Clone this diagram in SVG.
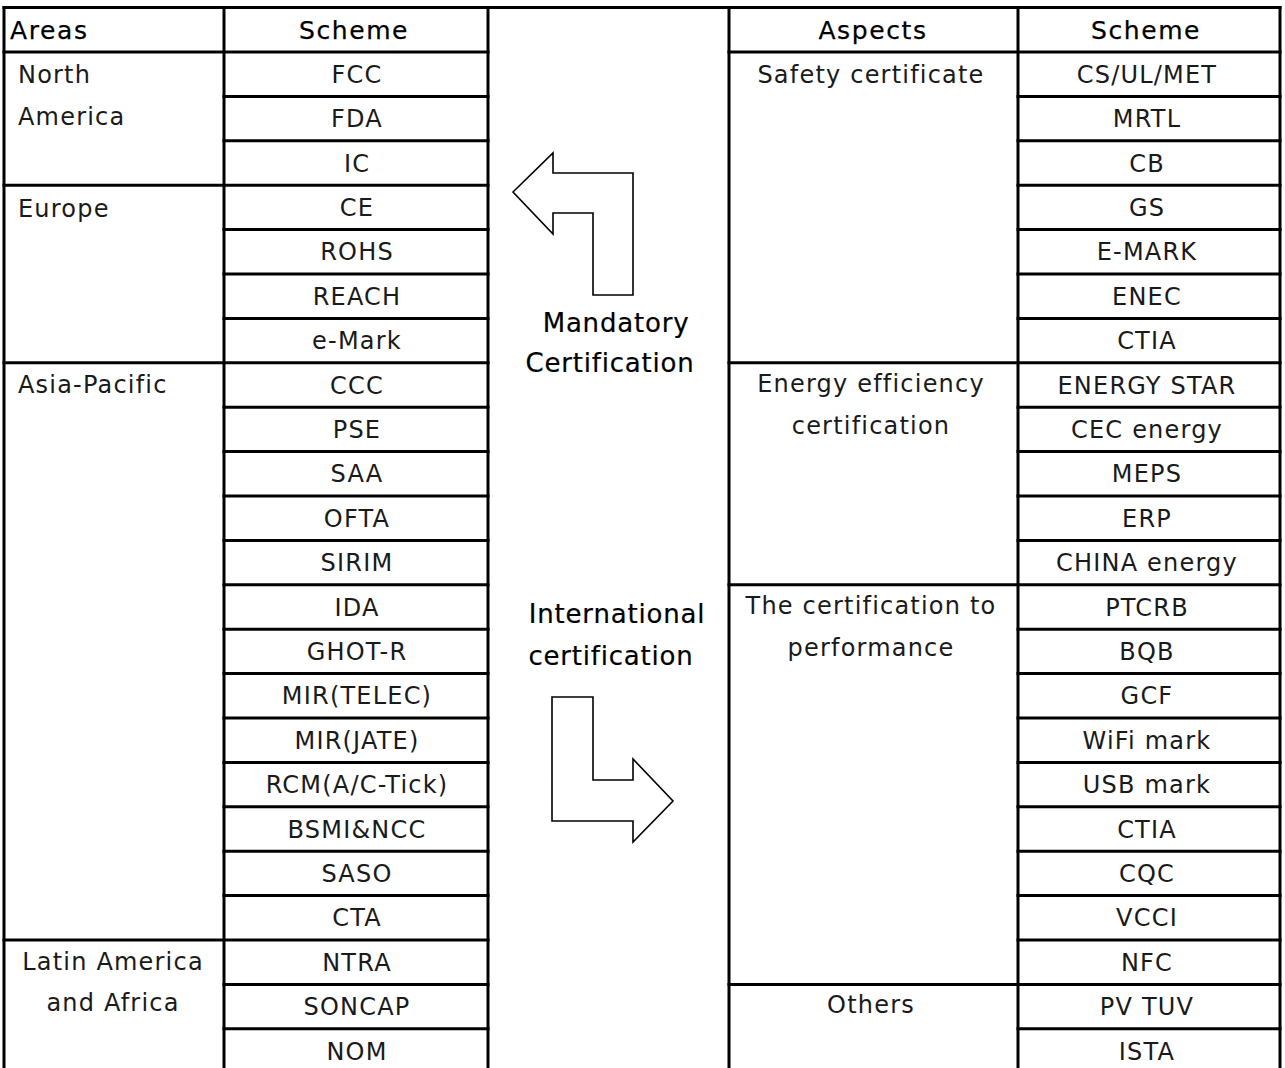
<svg xmlns="http://www.w3.org/2000/svg" width="1285" height="1068" viewBox="0 0 1285 1068">
<style>
.ln{stroke:#000;stroke-width:3;fill:none;stroke-linecap:square}
.t{font-family:"DejaVu Sans","Liberation Sans",sans-serif;font-size:24px;letter-spacing:1.2px;fill:#1a1a1a}
.c{text-anchor:middle}
.h{font-family:"DejaVu Sans","Liberation Sans",sans-serif;font-size:25px;letter-spacing:1.6px;fill:#000;stroke:#000;stroke-width:0.25;text-anchor:middle}
.m{font-family:"DejaVu Sans","Liberation Sans",sans-serif;font-size:26px;letter-spacing:0.8px;fill:#000;stroke:#000;stroke-width:0.2;text-anchor:middle}
.arr{fill:#fff;stroke:#000;stroke-width:1.6;stroke-linejoin:miter}
</style>
<rect width="1285" height="1068" fill="#fff"/>
<g id="grid" class="ln">
<line x1="4" y1="7.5" x2="1280" y2="7.5"/>
<line x1="4" y1="7.5" x2="4" y2="1075"/>
<line x1="224" y1="7.5" x2="224" y2="1075"/>
<line x1="488" y1="7.5" x2="488" y2="1075"/>
<line x1="729" y1="7.5" x2="729" y2="1075"/>
<line x1="1018" y1="7.5" x2="1018" y2="1075"/>
<line x1="1280" y1="7.5" x2="1280" y2="1075"/>
<line x1="4" y1="52" x2="488" y2="52"/>
<line x1="729" y1="52" x2="1280" y2="52"/>
<line x1="224" y1="96.4" x2="488" y2="96.4"/>
<line x1="224" y1="140.8" x2="488" y2="140.8"/>
<line x1="4" y1="185.2" x2="488" y2="185.2"/>
<line x1="224" y1="229.6" x2="488" y2="229.6"/>
<line x1="224" y1="274" x2="488" y2="274"/>
<line x1="224" y1="318.4" x2="488" y2="318.4"/>
<line x1="4" y1="362.8" x2="488" y2="362.8"/>
<line x1="224" y1="407.2" x2="488" y2="407.2"/>
<line x1="224" y1="451.6" x2="488" y2="451.6"/>
<line x1="224" y1="496" x2="488" y2="496"/>
<line x1="224" y1="540.4" x2="488" y2="540.4"/>
<line x1="224" y1="584.8" x2="488" y2="584.8"/>
<line x1="224" y1="629.2" x2="488" y2="629.2"/>
<line x1="224" y1="673.6" x2="488" y2="673.6"/>
<line x1="224" y1="718" x2="488" y2="718"/>
<line x1="224" y1="762.4" x2="488" y2="762.4"/>
<line x1="224" y1="806.8" x2="488" y2="806.8"/>
<line x1="224" y1="851.2" x2="488" y2="851.2"/>
<line x1="224" y1="895.6" x2="488" y2="895.6"/>
<line x1="4" y1="940" x2="488" y2="940"/>
<line x1="224" y1="984.4" x2="488" y2="984.4"/>
<line x1="224" y1="1028.8" x2="488" y2="1028.8"/>
<line x1="1018" y1="96.4" x2="1280" y2="96.4"/>
<line x1="1018" y1="140.8" x2="1280" y2="140.8"/>
<line x1="1018" y1="185.2" x2="1280" y2="185.2"/>
<line x1="1018" y1="229.6" x2="1280" y2="229.6"/>
<line x1="1018" y1="274" x2="1280" y2="274"/>
<line x1="1018" y1="318.4" x2="1280" y2="318.4"/>
<line x1="729" y1="362.8" x2="1280" y2="362.8"/>
<line x1="1018" y1="407.2" x2="1280" y2="407.2"/>
<line x1="1018" y1="451.6" x2="1280" y2="451.6"/>
<line x1="1018" y1="496" x2="1280" y2="496"/>
<line x1="1018" y1="540.4" x2="1280" y2="540.4"/>
<line x1="729" y1="584.8" x2="1280" y2="584.8"/>
<line x1="1018" y1="629.2" x2="1280" y2="629.2"/>
<line x1="1018" y1="673.6" x2="1280" y2="673.6"/>
<line x1="1018" y1="718" x2="1280" y2="718"/>
<line x1="1018" y1="762.4" x2="1280" y2="762.4"/>
<line x1="1018" y1="806.8" x2="1280" y2="806.8"/>
<line x1="1018" y1="851.2" x2="1280" y2="851.2"/>
<line x1="1018" y1="895.6" x2="1280" y2="895.6"/>
<line x1="1018" y1="940" x2="1280" y2="940"/>
<line x1="729" y1="984.4" x2="1280" y2="984.4"/>
<line x1="1018" y1="1028.8" x2="1280" y2="1028.8"/>
</g>
<g id="headers">
<text class="h" x="10" y="39" style="text-anchor:start">Areas</text>
<text class="h" x="354" y="39">Scheme</text>
<text class="h" x="873" y="39">Aspects</text>
<text class="h" x="1146" y="39">Scheme</text>
</g>
<g id="areas" class="t">
<text x="18" y="83">North</text>
<text x="18" y="125">America</text>
<text x="18" y="217">Europe</text>
<text x="18" y="393">Asia-Pacific</text>
<text x="113" y="970" class="c">Latin America</text>
<text x="113" y="1011" class="c">and Africa</text>
</g>
<g id="left-schemes" class="t c">
<text x="357" y="82.7">FCC</text>
<text x="357" y="127.1">FDA</text>
<text x="357" y="171.5">IC</text>
<text x="357" y="215.9">CE</text>
<text x="357" y="260.3">ROHS</text>
<text x="357" y="304.7">REACH</text>
<text x="357" y="349.1">e-Mark</text>
<text x="357" y="393.5">CCC</text>
<text x="357" y="437.9">PSE</text>
<text x="357" y="482.3">SAA</text>
<text x="357" y="526.7">OFTA</text>
<text x="357" y="571.1">SIRIM</text>
<text x="357" y="615.5">IDA</text>
<text x="357" y="659.9">GHOT-R</text>
<text x="357" y="704.3">MIR(TELEC)</text>
<text x="357" y="748.7">MIR(JATE)</text>
<text x="357" y="793.1">RCM(A/C-Tick)</text>
<text x="357" y="837.5">BSMI&amp;NCC</text>
<text x="357" y="881.9">SASO</text>
<text x="357" y="926.3">CTA</text>
<text x="357" y="970.7">NTRA</text>
<text x="357" y="1015.1">SONCAP</text>
<text x="357" y="1059.5">NOM</text>
</g>
<g id="aspects" class="t c">
<text x="871" y="83">Safety certificate</text>
<text x="871" y="392">Energy efficiency</text>
<text x="871" y="434">certification</text>
<text x="871" y="614">The certification to</text>
<text x="871" y="656">performance</text>
<text x="871" y="1013">Others</text>
</g>
<g id="right-schemes" class="t c">
<text x="1147" y="82.7">CS/UL/MET</text>
<text x="1147" y="127.1">MRTL</text>
<text x="1147" y="171.5">CB</text>
<text x="1147" y="215.9">GS</text>
<text x="1147" y="260.3">E-MARK</text>
<text x="1147" y="304.7">ENEC</text>
<text x="1147" y="349.1">CTIA</text>
<text x="1147" y="393.5">ENERGY STAR</text>
<text x="1147" y="437.9">CEC energy</text>
<text x="1147" y="482.3">MEPS</text>
<text x="1147" y="526.7">ERP</text>
<text x="1147" y="571.1">CHINA energy</text>
<text x="1147" y="615.5">PTCRB</text>
<text x="1147" y="659.9">BQB</text>
<text x="1147" y="704.3">GCF</text>
<text x="1147" y="748.7">WiFi mark</text>
<text x="1147" y="793.1">USB mark</text>
<text x="1147" y="837.5">CTIA</text>
<text x="1147" y="881.9">CQC</text>
<text x="1147" y="926.3">VCCI</text>
<text x="1147" y="970.7">NFC</text>
<text x="1147" y="1015.1">PV TUV</text>
<text x="1147" y="1059.5">ISTA</text>
</g>
<g id="connectors">
<polygon id="arrow-mandatory" class="arr" points="513,192 553,153 553,173 633,173 633,295 593,295 593,213 553,213 553,234"/>
<polygon id="arrow-international" class="arr" points="552,697 593,697 593,780 633,780 633,759 673,801 633,842 633,821 552,821"/>
</g>
<g id="middle-labels">
<text class="m" x="616" y="332">Mandatory</text>
<text class="m" x="610" y="372">Certification</text>
<text class="m" x="617" y="623">International</text>
<text class="m" x="611" y="665">certification</text>
</g>
</svg>
